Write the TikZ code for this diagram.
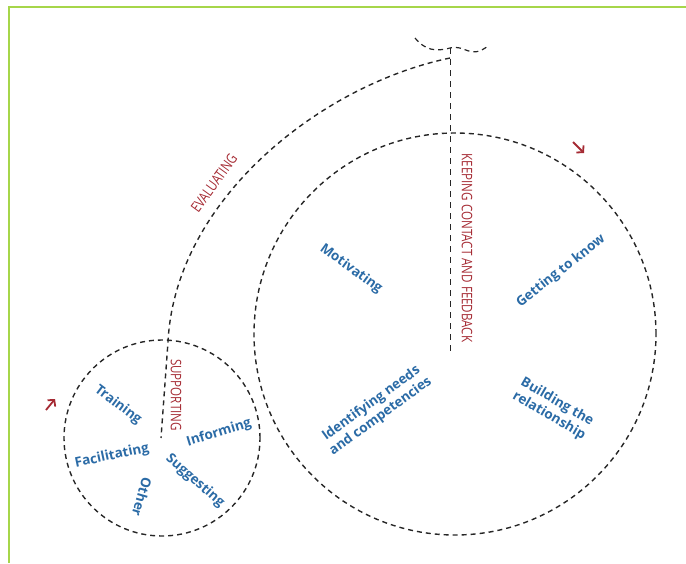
\documentclass[tikz,border=0pt]{standalone}
\usepackage{fontspec}
\setmainfont{Open Sans}
\newfontfamily\narrowfont[FakeStretch=0.8]{Open Sans}
\usetikzlibrary{arrows.meta}
\definecolor{frameGreen}{HTML}{A6D64A}
\definecolor{labelBlue}{HTML}{2B6BA6}
\definecolor{labelRed}{HTML}{A52A33}
\tikzset{
  wheel/.style={black!85, line width=1.4pt, dash pattern=on 5pt off 4pt},
  spoke/.style={black!85, line width=1pt, dash pattern=on 6pt off 5pt},
  task/.style={text=labelBlue, font=\bfseries\fontsize{13.5}{16}\selectfont, align=center, inner sep=0pt},
  phase/.style={text=labelRed, font=\narrowfont\fontsize{14.5}{16}\selectfont, inner sep=0pt},
  turn/.style={labelRed, line width=1.8pt, -{Straight Barb[length=4.5pt, width=10pt]}},
}

\begin{document}
\begin{tikzpicture}[x=1pt, y=-1pt]
    \useasboundingbox (0,0) rectangle (686,563);
    % frame
    \draw[frameGreen, line width=1.5pt] (9,563) -- (9,7) -- (686,7);
    % wheels
    \draw[wheel] (455,334) circle[radius=201pt];
    \draw[wheel] (162,438) circle[radius=98pt];
    % frame of the bike
    \coordinate (stem) at (450,48);
    \coordinate (joint) at (450,58);
    \coordinate (hub) at (450,352);
    \coordinate (fork) at (168,342);
    \coordinate (axle) at (161,438);
    \coordinate (gripL) at (415,38);
    \coordinate (gripR) at (488,46);
    \draw[spoke] (stem) -- (hub);
    \draw[wheel] (joint) .. controls (320,85) and (175,200) .. (fork) -- (axle);
    \draw[wheel, line width=1.2pt] (gripL) .. controls (425,50) and (435,52) .. (stem)
        .. controls (465,44) and (470,60) .. (gripR);
    % direction of turning
    \coordinate (turnA) at (573,142);
    \coordinate (turnB) at (584,153);
    \coordinate (turnC) at (46,410);
    \coordinate (turnD) at (55,399);
    \draw[turn] (turnA) -- (turnB);
    \draw[turn] (turnC) -- (turnD);
    % phases
    \node[phase, rotate=-90] (keeping) at (467,248) {KEEPING CONTACT AND FEEDBACK};
    \node[phase, rotate=54] (evaluating) at (214,183) {EVALUATING};
    \node[phase, rotate=-90] (supporting) at (176,395) {SUPPORTING};
    % big wheel
    \node[task, rotate=-36] (motivating) at (351,269) {Motivating};
    \node[task, rotate=38] (getting) at (561,271) {Getting to know};
    \node[task, rotate=36] (identifying) at (376,410) {Identifying needs\\and competencies};
    \node[task, rotate=-30] (building) at (553,409) {Building the\\relationship};
    % small wheel
    \node[task, rotate=-37] (training) at (118,405) {Training};
    \node[task, rotate=12] (facilitating) at (112,456) {Facilitating};
    \node[task, rotate=17] (informing) at (219,433) {Informing};
    \node[task, rotate=-41] (suggesting) at (195,481) {Suggesting};
    \node[task, rotate=-106] (other) at (142,497) {Other};
\end{tikzpicture}
\end{document}
